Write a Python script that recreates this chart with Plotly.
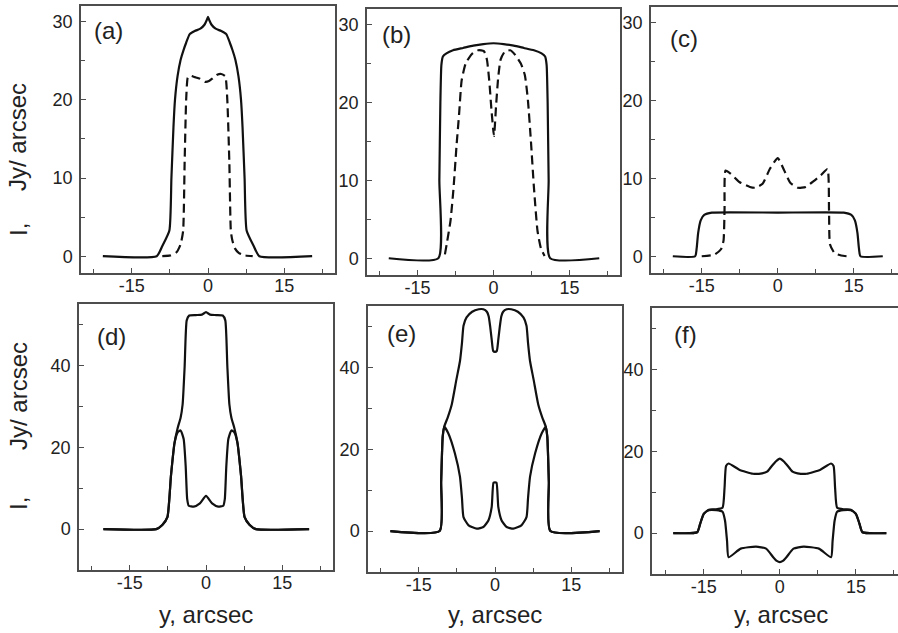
import plotly.graph_objects as go

W, H = 898, 633

# ---------------- data ----------------
# (a)
a_solid_x = [-20.7, -10.1, -9.0, -7.6, -7.2, -6.8, -6.5, -6.0, -5.4, -4.8, -4.3, -3.6, -2.6, -1.5, -0.7, -0.25, 0.0,
             0.25, 0.7, 1.5, 2.6, 3.6, 4.3, 4.8, 5.4, 6.0, 6.5, 6.8, 7.2, 7.6, 9.0, 10.1, 20.5]
a_solid_y = [0, 0, 1.3, 3.3, 10, 16.5, 20, 23, 25.1, 26.4, 27.3, 28.4, 28.8, 29.1, 29.6, 30.2, 30.6,
             30.2, 29.6, 29.1, 28.8, 28.4, 27.3, 26.4, 25.1, 23, 20, 16.5, 10, 3.3, 1.3, 0, 0]
a_dash_x = [-9.0, -7.4, -6.2, -5.4, -4.9, -4.6, -4.3, -4.0, -3.6, -2.6, -1.6, -0.6, 0.2, 1.0, 1.8, 2.6, 3.4,
            3.8, 4.2, 4.5, 4.8, 5.3, 6.1, 7.3, 8.8]
a_dash_y = [0, 0.1, 0.5, 1.5, 3.2, 12, 20, 22.8, 23.1, 22.9, 22.7, 22.3, 22.4, 22.8, 23.2, 23.3, 23.0,
            20, 12, 3.2, 2.0, 1.0, 0.4, 0.1, 0]

# (b)
b_solid_x = [-20.7, -10.9, -10.7, -10.5, -10.3, -10.0, -9.3, -8.0, -6.0, -4.0, -2.0, 0.0,
             2.0, 4.0, 6.0, 8.0, 9.5, 10.2, 10.5, 10.7, 10.9, 11.2, 20.9]
b_solid_y = [0, 0, 10, 20, 24.8, 25.9, 26.3, 26.7, 27.0, 27.3, 27.5, 27.6,
             27.5, 27.3, 27.0, 26.7, 26.3, 25.9, 24.8, 20, 10, 0, 0]
b_dash_x = [-9.6, -9.2, -8.5, -7.9, -7.3, -6.8, -6.3, -5.5, -4.3, -3.0, -1.9, -1.3, -0.8, -0.4, 0.1,
            0.5, 0.9, 1.4, 2.2, 3.3, 4.3, 5.4, 6.2, 6.8, 7.4, 8.0, 8.7, 9.4, 10.1]
b_dash_y = [0.5, 2.0, 4.8, 9.0, 14.5, 18.5, 22.8, 25.0, 26.2, 26.7, 26.6, 25.5, 22.5, 19.0, 15.7,
            19.5, 23.0, 25.5, 26.5, 26.7, 26.1, 25.0, 23.5, 20.3, 15.0, 9.0, 3.5, 1.2, 0.3]

# (c)
c_solid_x = [-20.7, -16.3, -16.0, -15.7, -15.2, -14.5, -13.0, 0.0, 13.0, 14.5, 15.2, 15.7, 16.0, 16.3, 20.7]
c_solid_y = [0, 0, 1.0, 3.0, 4.6, 5.3, 5.6, 5.6, 5.6, 5.3, 4.6, 3.0, 1.0, 0, 0]
c_dash_x = [-15.0, -12.5, -11.2, -10.7, -10.5, -10.3, -9.3, -7.5, -5.5, -4.5, -3.0, -1.5, 0.0, 1.2, 2.5,
            4.0, 5.5, 7.0, 8.5, 9.8, 10.1, 10.3, 11.2, 12.5, 13.6]
c_dash_y = [0, 0.2, 0.9, 2.0, 6.0, 11.0, 10.6, 9.5, 8.9, 8.8, 9.3, 11.3, 12.6, 11.1, 9.4,
            8.8, 8.9, 9.6, 10.4, 11.2, 6.0, 1.5, 0.4, 0.1, 0]

# (d)
d_upper_x = [-20.2, -9.8, -8.6, -7.6, -6.9, -6.2, -5.6, -5.0, -4.6, -4.2, -3.8, -3.3, -2.0, -0.8, 0.0,
             0.8, 2.0, 3.3, 3.8, 4.2, 4.6, 5.0, 5.6, 6.2, 6.9, 7.6, 8.6, 9.8, 20.3]
d_upper_y = [0, 0, 1.0, 2.9, 13.0, 21.0, 24.6, 27.2, 30.5, 39.8, 51.0, 52.2, 52.3, 52.4, 53.0,
             52.4, 52.3, 52.2, 51.0, 39.8, 30.5, 27.2, 24.6, 21.0, 13.0, 2.9, 1.0, 0, 0]
d_lower_x = [-20.2, -9.8, -8.6, -7.6, -6.9, -6.2, -5.6, -5.0, -4.4, -4.0, -3.7, -3.4, -2.4, -1.2, 0.0,
             1.2, 2.4, 3.4, 3.7, 4.0, 4.4, 5.0, 5.6, 6.2, 6.9, 7.6, 8.6, 9.8, 20.3]
d_lower_y = [0, 0, 1.0, 2.9, 13.0, 21.0, 23.6, 24.1, 22.0, 15.4, 7.3, 5.7, 5.5, 6.3, 8.1,
             6.3, 5.5, 5.7, 7.3, 15.4, 22.0, 24.1, 23.6, 21.0, 13.0, 2.9, 1.0, 0, 0]

# (e)
e_upper_x = [-20.6, -10.9, -10.6, -10.3, -10.0, -9.3, -8.5, -7.6, -6.9, -6.5, -6.2, -5.6, -4.5, -3.2, -2.3,
             -1.6, -1.25, -0.95, -0.65, -0.35, 0.0, 0.35, 0.65, 0.95, 1.25, 1.6, 2.3, 3.2, 4.5, 5.6, 6.2,
             6.5, 6.9, 7.6, 8.5, 9.3, 10.0, 10.3, 10.6, 10.9, 20.6]
e_upper_y = [0, 0, 12, 23, 25.5, 27.8, 31.0, 37.0, 41.5, 46.0, 50.2, 52.2, 53.6, 54.2, 54.2,
             53.6, 52.5, 50.0, 46.8, 44.0, 43.8, 44.0, 46.8, 50.0, 52.5, 53.6, 54.2, 54.2, 53.6, 52.2, 50.2,
             46.0, 41.5, 37.0, 31.0, 27.8, 25.5, 23, 12, 0, 0]
e_lower_x = [-20.6, -10.9, -10.6, -10.3, -10.0, -9.2, -7.9, -6.9, -6.5, -6.2, -5.2, -3.6, -2.3, -1.3, -0.65,
             -0.3, 0.0, 0.3, 0.65, 1.3, 2.3, 3.6, 5.2, 6.2, 6.5, 6.9, 7.9, 9.2, 10.0, 10.3, 10.6, 10.9, 20.6]
e_lower_y = [0, 0, 12, 23, 25.5, 23.9, 19.0, 13.3, 8.0, 3.4, 1.4, 0.6, 1.0, 2.6, 5.9,
             11.8, 11.9, 11.8, 5.9, 2.6, 1.0, 0.6, 1.4, 3.4, 8.0, 13.3, 19.0, 23.9, 25.5, 23, 12, 0, 0]

# (f)
f_upper_x = [-21.0, -16.3, -15.7, -15.0, -14.0, -12.7, -11.3, -10.9, -10.6, -10.1, -8.0, -5.3, -3.5, -2.5,
             -1.7, -0.8, 0.0, 0.8, 1.7, 2.5, 3.5, 5.3, 8.0, 10.1, 10.6, 10.9, 11.3, 12.7, 14.0, 15.0, 15.7,
             16.3, 21.0]
f_upper_y = [0, 0.2, 2.3, 4.7, 5.7, 5.8, 6.2, 11.0, 16.4, 17.0, 15.5, 14.5, 14.6, 15.0,
             16.2, 17.5, 18.2, 17.5, 16.2, 15.0, 14.6, 14.5, 15.5, 17.0, 16.4, 11.0, 6.2, 5.8, 5.7, 4.7, 2.3,
             0.2, 0]
f_lower_x = [-21.0, -16.3, -15.7, -15.0, -14.0, -12.5, -11.3, -10.8, -10.4, -10.1, -7.7, -4.7, -2.7, -1.3,
             -0.6, 0.0, 0.6, 1.3, 2.7, 4.7, 7.7, 10.1, 10.4, 10.8, 11.3, 12.5, 14.0, 15.0, 15.7, 16.3, 21.0]
f_lower_y = [0, 0.2, 2.3, 4.7, 5.6, 5.6, 5.2, 3.0, -2.0, -5.9, -3.8, -3.3, -3.8, -5.9,
             -6.8, -7.1, -6.8, -5.9, -3.8, -3.3, -3.8, -5.9, -2.0, 3.0, 5.2, 5.6, 5.6, 4.7, 2.3, 0.2, 0]

x_ticks = [-15, 0, 15]
x_ticklabels = ["-15", "0", "15"]
top_y_ticks = [0, 10, 20, 30]
bottom_y_ticks = [0, 20, 40]
panel_labels = ["(a)", "(b)", "(c)", "(d)", "(e)", "(f)"]
x_title = "y, arcsec"
y_title_main = "Jy/ arcsec"
y_title_sym = "I,"

# ---------------- layout helpers ----------------
def fx(px):
    return px / W

def fy(py):
    return 1 - py / H

# panel boxes in pixels: (left, right, top, bottom)
boxes = [
    (81, 335, 6, 273),
    (367, 620, 9, 275),
    (651, 898, 7, 273),
    (79, 333, 304, 570),
    (368, 622, 306, 572),
    (652, 898, 308, 574),
]
xranges = [[-25, 25], [-25, 25], [-25, 23.7], [-25, 25], [-25, 25], [-25.2, 23.3]]
yranges = [[-2.15, 32]] * 3 + [[-10, 55]] * 3

series = [
    [(a_solid_x, a_solid_y, "solid"), (a_dash_x, a_dash_y, "dash")],
    [(b_solid_x, b_solid_y, "solid"), (b_dash_x, b_dash_y, "dash")],
    [(c_solid_x, c_solid_y, "solid"), (c_dash_x, c_dash_y, "dash")],
    [(d_upper_x, d_upper_y, "solid"), (d_lower_x, d_lower_y, "solid")],
    [(e_upper_x, e_upper_y, "solid"), (e_lower_x, e_lower_y, "solid")],
    [(f_upper_x, f_upper_y, "solid"), (f_lower_x, f_lower_y, "solid")],
]

FONT = "Liberation Sans, Arial, Helvetica, sans-serif"
FRAME = "#4d4d4d"
INK = "#111111"

fig = go.Figure()
layout = dict(
    width=W, height=H,
    margin=dict(l=0, r=0, t=0, b=0),
    paper_bgcolor="white", plot_bgcolor="white",
    showlegend=False,
    font=dict(family=FONT, color="#222222"),
)

for i, (box, xr, yr, ser) in enumerate(zip(boxes, xranges, yranges, series)):
    n = "" if i == 0 else str(i + 1)
    xa, ya = "x" + n, "y" + n
    for xs, ys, dash in ser:
        fig.add_trace(go.Scatter(
            x=xs, y=ys, mode="lines", xaxis=xa, yaxis=ya,
            line=dict(color=INK, width=2.2,
                      dash="9px,5px" if dash == "dash" else "solid",
                      shape="spline", smoothing=0.5),
            hoverinfo="skip",
        ))
    l, r, t, b = box
    top_row = i < 3
    layout["xaxis" + n] = dict(
        domain=[fx(l), fx(r)], range=xr, anchor=ya,
        showgrid=False, zeroline=False,
        showline=True, linecolor=FRAME, linewidth=1.5, mirror=True,
        tickvals=x_ticks, ticktext=x_ticklabels,
        ticks="inside", ticklen=5, tickwidth=1.3, tickcolor=FRAME,
        minor=dict(tickvals=[-22.5, -7.5, 7.5, 22.5], ticks="inside", ticklen=4,
                   tickwidth=1.2, tickcolor=FRAME),
        tickfont=dict(size=18, family=FONT, color="#222222"),
        ticklabelstandoff=-4,
    )
    yt = top_y_ticks if top_row else bottom_y_ticks
    ymin = [5, 15, 25] if top_row else [-10, 10, 30, 50]
    layout["yaxis" + n] = dict(
        domain=[fy(b), fy(t)], range=yr, anchor=xa,
        showgrid=False, zeroline=False,
        showline=True, linecolor=FRAME, linewidth=1.5, mirror=(i not in (2, 5)),
        tickvals=yt, ticktext=[str(v) for v in yt],
        ticks="inside", ticklen=5, tickwidth=1.3, tickcolor=FRAME,
        minor=dict(tickvals=ymin, ticks="inside", ticklen=4, tickwidth=1.2, tickcolor=FRAME),
        tickfont=dict(size=18, family=FONT, color="#222222"),
        ticklabelstandoff=3,
    )

fig.update_layout(**layout)

annotations = []
label_pos = [(92, 31), (380, 35), (668, 38), (95, 336), (385, 333), (672, 334)]
for lab, (px, py) in zip(panel_labels, label_pos):
    annotations.append(dict(text=lab, x=fx(px), y=fy(py), xref="paper", yref="paper",
                            xanchor="left", yanchor="middle", showarrow=False,
                            font=dict(size=24, family=FONT, color="#222222")))
# x-axis titles under the bottom row
for cx in (206, 495, 781):
    annotations.append(dict(text=x_title, x=fx(cx), y=fy(614), xref="paper", yref="paper",
                            xanchor="center", yanchor="middle", showarrow=False,
                            font=dict(size=24, family=FONT, color="#222222")))
# y-axis titles (rotated)
for cy_main, cy_sym in ((137, 230), (396, 504)):
    annotations.append(dict(text=y_title_main, x=fx(18), y=fy(cy_main), xref="paper", yref="paper",
                            xanchor="center", yanchor="middle", showarrow=False, textangle=-90,
                            font=dict(size=24, family=FONT, color="#222222")))
    annotations.append(dict(text=y_title_sym, x=fx(18), y=fy(cy_sym), xref="paper", yref="paper",
                            xanchor="center", yanchor="middle", showarrow=False, textangle=-90,
                            font=dict(size=24, family=FONT, color="#222222")))
fig.update_layout(annotations=annotations)

fig.write_html(
    "out.html",
    config={"displayModeBar": False},
    post_script="document.body.style.margin='0px';document.body.style.padding='0px';"
                "document.body.style.overflow='hidden';",
)
